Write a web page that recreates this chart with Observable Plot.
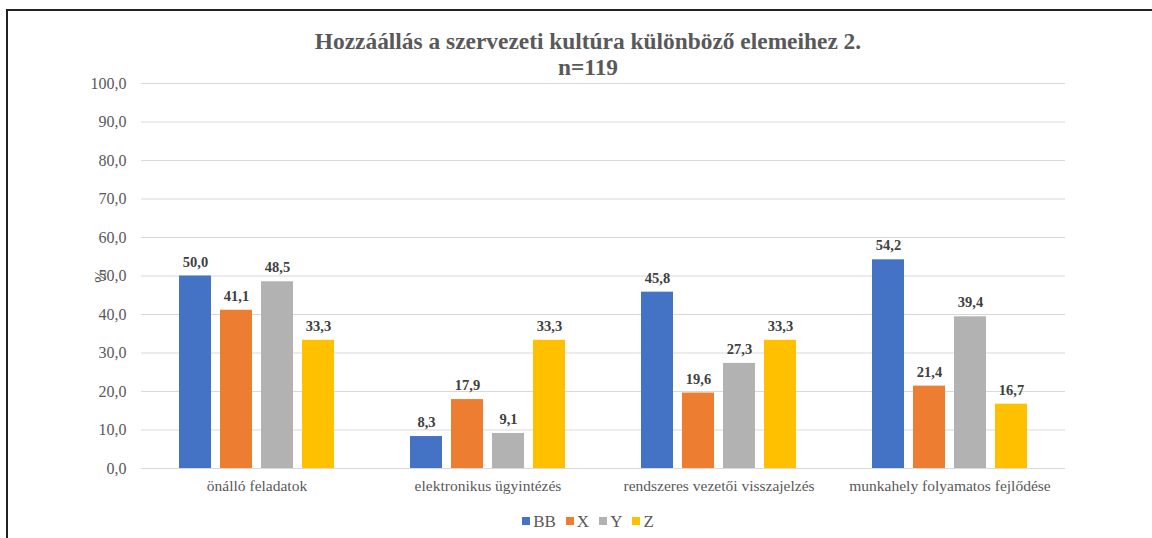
<!DOCTYPE html>
<html>
<head>
<meta charset="utf-8">
<script src="https://cdn.jsdelivr.net/npm/d3@7"></script>
<script src="https://cdn.jsdelivr.net/npm/@observablehq/plot@0.6"></script>
<style>
  html, body { margin: 0; padding: 0; background: #fff; }
  #wrap { position: relative; width: 1152px; height: 538px; overflow: hidden; font-family: "Liberation Serif", "Times New Roman", serif; }
  #frame { position: absolute; left: 6px; top: 9px; width: 1200px; height: 600px; border-left: 2px solid #222; border-top: 2px solid #222; }
  #title { position: absolute; left: 0; width: 1176px; top: 28px; text-align: center; color: #595959; font-weight: bold; font-size: 23.4px; line-height: 26px; }
  #legend { position: absolute; left: 0; width: 1176px; top: 512px; text-align: center; color: #595959; font-size: 17px; line-height: 20px; }
  #legend span.item { margin: 0 5px; }
  #legend span.sw { display: inline-block; width: 8px; height: 8px; margin-right: 3px; vertical-align: 2px; }
  #chart { position: absolute; left: 0; top: 0; }
</style>
</head>
<body>
<div id="wrap">
  <div id="frame"></div>
  <div id="chart"></div>
  <div id="title">Hozzáállás a szervezeti kultúra különböző elemeihez 2.<br>n=119</div>
  <div id="legend"></div>
</div>
<script>
const categories = ["önálló feladatok", "elektronikus ügyintézés", "rendszeres vezetői visszajelzés", "munkahely folyamatos fejlődése"];
const seriesNames = ["BB", "X", "Y", "Z"];
const seriesColors = ["#4472C4", "#ED7D31", "#B2B2B2", "#FFC000"];
const valuesBB = [50.0, 8.3, 45.8, 54.2];
const valuesX = [41.1, 17.9, 19.6, 21.4];
const valuesY = [48.5, 9.1, 27.3, 39.4];
const valuesZ = [33.3, 33.3, 33.3, 16.7];
const yTicks = [0, 10, 20, 30, 40, 50, 60, 70, 80, 90, 100];

const seriesValues = [valuesBB, valuesX, valuesY, valuesZ];
const data = [];
categories.forEach((c, i) => {
  seriesNames.forEach((s, j) => {
    data.push({category: c, series: s, value: seriesValues[j][i]});
  });
});
const fmt = d => d.toFixed(1).replace(".", ",");
const serif = "'Liberation Serif', 'Times New Roman', serif";

const chart = Plot.plot({
  width: 1152,
  height: 538,
  marginLeft: 140,
  marginRight: 86,
  marginTop: 83,
  marginBottom: 70,
  style: {fontFamily: serif, background: "transparent"},
  fx: {domain: categories, padding: 0, label: null, axis: "bottom", tickSize: 0, tickPadding: 11},
  x: {domain: seriesNames, axis: null, paddingInner: 0.214, paddingOuter: 0.863},
  y: {domain: [0, 100], ticks: yTicks, tickFormat: fmt, label: "%", labelAnchor: "center", labelArrow: "none", labelOffset: 47, tickSize: 0, tickPadding: 15},
  color: {domain: seriesNames, range: seriesColors},
  marks: [
    Plot.ruleY(yTicks, {stroke: "#d9d9d9", strokeWidth: 1}),
    Plot.barY(data, {fx: "category", x: "series", y: "value", fill: "series"}),
    Plot.text(data, {fx: "category", x: "series", y: "value", text: d => fmt(d.value), dy: -14, fill: "#404040", fontWeight: "bold", fontSize: 14.5})
  ]
});
const svg = d3.select(chart);
svg.attr("font-family", serif).style("font-family", serif);
svg.selectAll("g").attr("font-family", null);
svg.selectAll("text").style("font-family", serif);
svg.selectAll("[aria-label='y-axis tick label'] text, [aria-label='fx-axis tick label'] text").attr("font-size", null);
svg.select("[aria-label='y-axis tick label']").attr("font-size", 16).attr("fill", "#595959");
svg.select("[aria-label='fx-axis tick label']").attr("font-size", 15.5).attr("fill", "#595959");
svg.select("[aria-label='y-axis label']").attr("font-size", 16).attr("fill", "#595959");
document.getElementById("chart").appendChild(chart);

const legend = document.getElementById("legend");
seriesNames.forEach((s, j) => {
  const item = document.createElement("span");
  item.className = "item";
  const sw = document.createElement("span");
  sw.className = "sw";
  sw.style.background = seriesColors[j];
  item.appendChild(sw);
  item.appendChild(document.createTextNode(s));
  legend.appendChild(item);
});
</script>
</body>
</html>
